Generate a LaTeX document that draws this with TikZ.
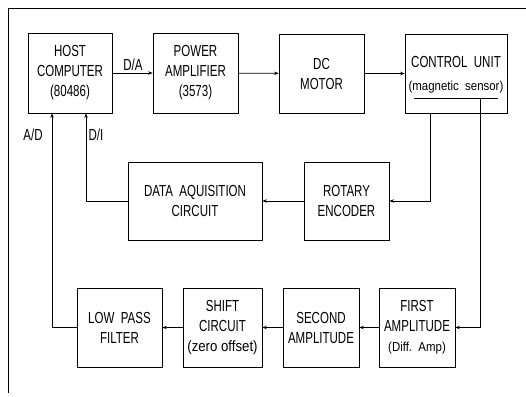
\documentclass[tikz,border=0pt]{standalone}
\usepackage{fontspec}
\setmainfont[FakeStretch=0.72]{Liberation Sans}
\newfontfamily\widefont[FakeStretch=0.88]{Liberation Sans}
\usetikzlibrary{arrows.meta}
\tikzset{
  blk/.style={draw, line width=0.7pt, inner sep=0pt, align=center,
    font=\fontsize{16}{20}\selectfont},
  conn/.style={line width=0.7pt, -{Stealth[length=4.5pt,width=3.5pt]}},
  wire/.style={line width=0.7pt},
  lbl/.style={font=\fontsize{16}{18}\selectfont, inner sep=0pt},
  small/.style={font=\widefont\fontsize{13}{14}\selectfont}
}
\begin{document}
\begin{tikzpicture}[x=1pt,y=-1pt]
\useasboundingbox (0,0) rectangle (526,396);
% frame
\coordinate (fb) at (8,393);
\coordinate (ftl) at (8,8);
\coordinate (ftr) at (526,8);
\draw[wire] (fb) -- (ftl) -- (ftr);
% top row
\node[blk, minimum width=84pt, minimum height=80pt] (host) at (70,73) {HOST\\COMPUTER\\(80486)};
\node[blk, minimum width=85pt, minimum height=80pt] (power) at (195.5,73) {POWER\\AMPLIFIER\\(3573)};
\node[blk, minimum width=85pt, minimum height=79pt] (dc) at (321.5,73.5) {DC\\MOTOR};
\node[blk, minimum width=102pt, minimum height=79pt] (ctrl) at (456,73.5) {};
\node[lbl] (ctrlt) at (456,62) {CONTROL\ \ UNIT};
\node[small, inner sep=0pt] (ctrls) at (456,87) {(magnetic\ \ sensor)};
% middle row
\node[blk, minimum width=134pt, minimum height=78pt] (data) at (195,201) {DATA\ \ AQUISITION\\CIRCUIT};
\node[blk, minimum width=85pt, minimum height=78pt] (rot) at (346.5,201) {ROTARY\\ENCODER};
% bottom row
\node[blk, minimum width=85pt, minimum height=79pt] (lpf) at (119.5,327.5) {LOW\ \ PASS\\FILTER};
\node[blk, minimum width=79pt, minimum height=79pt] (shift) at (222.5,327.5) {SHIFT\\CIRCUIT\\{\widefont\fontsize{15}{16}\selectfont(zero offset)}};
\node[blk, minimum width=76pt, minimum height=79pt] (second) at (321,327.5) {SECOND\\AMPLITUDE};
\node[blk, minimum width=76pt, minimum height=79pt] (first) at (417,327.5) {FIRST\\AMPLITUDE\\{\widefont\fontsize{13}{14}\selectfont(Diff.\ \ Amp)}};
% connectors top row
\draw[conn] (host) -- (power);
\node[lbl] (da) at (133,65) {D/A};
\draw[conn] (power) -- (dc);
\draw[conn] (dc) -- (ctrl);
% sensor underline and feed
\coordinate (ul1) at (414,98);
\coordinate (ul2) at (498,98);
\coordinate (sens) at (480,98);
\draw[wire] (ul1) -- (ul2);
\draw[conn] (sens) |- (first.east);
% control unit to rotary encoder
\draw[conn] ([xshift=-26pt]ctrl.south) |- (rot.east);
\draw[conn] (rot) -- (data);
% data to host
\draw[conn] (data.west) -| ([xshift=16pt]host.south);
\node[lbl] (di) at (96,135) {D/I};
% bottom chain
\draw[conn] (first) -- (second);
\draw[conn] (second) -- (shift);
\draw[conn] (shift) -- (lpf);
\draw[conn] (lpf.west) -| ([xshift=-18pt]host.south);
\node[lbl] (ad) at (33,135) {A/D};
\end{tikzpicture}
\end{document}
